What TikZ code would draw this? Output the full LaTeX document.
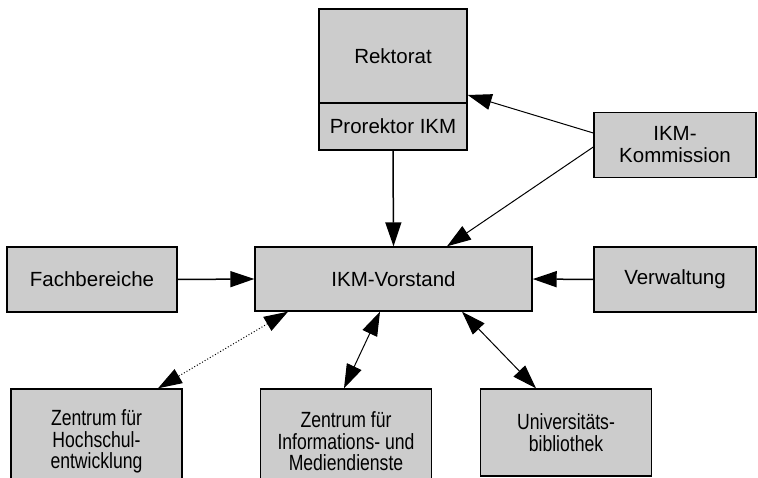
\documentclass[tikz,border=0pt]{standalone}
\usepackage{fontspec}
\setmainfont{Liberation Sans}
\newfontfamily\narrowfont[FakeStretch=0.8]{Liberation Sans}
\usetikzlibrary{arrows.meta}

\begin{document}
\begin{tikzpicture}[
	x=1pt, y=-1pt,
	box/.style = {draw, fill=gray!40, line width=1.4pt, inner sep=0pt, align=center,
	              font=\fontsize{20.5}{22}\selectfont},
	rbox/.style = {box, minimum width=162pt, minimum height=65pt},
	lbox/.style = {box, minimum width=171pt, minimum height=105pt,
	              font=\narrowfont\fontsize{22}{21.5}\selectfont},
	link/.style = {line width=1.5pt, -{Triangle[length=24pt, width=16pt]}},
	slant/.style = {link, line width=1pt},
	both/.style = {line width=1pt, {Triangle[length=24pt, width=16pt]}-{Triangle[length=24pt, width=16pt]}},
	]
\path[use as bounding box, clip] (0,0) rectangle (758,478);
%
	\node[box, minimum width=148pt, minimum height=94pt] (rekt) at (393,56) {Rektorat};
	\node[box, minimum width=148pt, minimum height=47pt] (prorekt) at (393,126.5) {Prorektor IKM};
%
	\node[box, minimum width=277pt, minimum height=64pt] (vorstand) at (393.5,279) {IKM-Vorstand};
	\node[box, minimum width=170pt, minimum height=65pt] (fach) at (92,279.5) {Fachbereiche};
	\node[rbox] (komm) at (675,145) {IKM-\\Kommission};
	\node[rbox] (verw) at (675,279.5) {Verwaltung};
%
	\node[lbox] (hsz) at (96.5,441.5) {Zentrum für\\Hochschul-\\entwicklung};
	\node[lbox] (zim) at (346,441.5) {Zentrum für\\Informations- und\\Mediendienste};
	\node[lbox, minimum height=87pt] (ub) at (566,432.5) {Universitäts-\\bibliothek};
%
	\draw[link] (prorekt.south) -- (vorstand.north);
	\draw[slant] ([yshift=12pt] komm.west) -- ([yshift=-39pt] rekt.east);
	\draw[slant] ([yshift=-2pt] komm.west) -- ([xshift=53.5pt] vorstand.north);
	\draw[link] (fach.east) -- (vorstand.west);
	\draw[link] (verw.west) -- (vorstand.east);
%
	\draw[both, dotted] ([xshift=-105.5pt] vorstand.south) -- ([xshift=61.5pt] hsz.north);
	\draw[both] ([xshift=-13.5pt] vorstand.south) -- ([xshift=-2pt] zim.north);
	\draw[both] ([xshift=68.5pt] vorstand.south) -- ([xshift=-30pt] ub.north);
\end{tikzpicture}
\end{document}
